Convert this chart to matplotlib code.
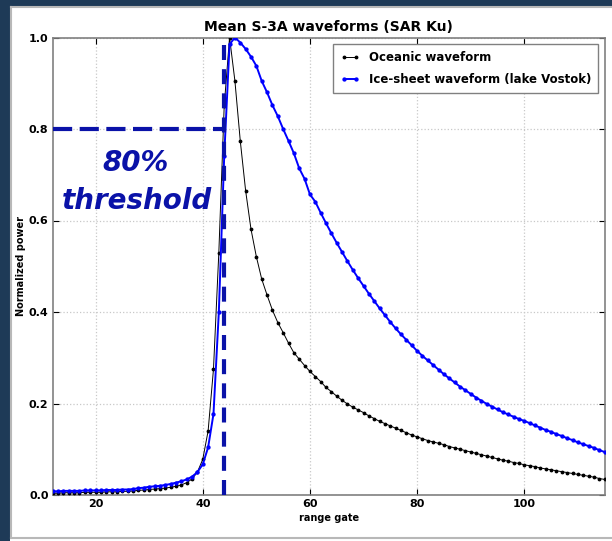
import matplotlib
matplotlib.use("Agg")
import matplotlib.pyplot as plt
from matplotlib.patches import Rectangle
from matplotlib.lines import Line2D

# Range gates shown on the x axis
gates = list(range(10, 119))

# Mean oceanic waveform (normalized power per range gate)
ocean = [
    0.004, 0.004, 0.004, 0.004, 0.005, 0.005, 0.005, 0.005, 0.006, 0.006,   # 10-19
    0.006, 0.006, 0.007, 0.007, 0.007, 0.008, 0.008, 0.009, 0.010, 0.011,   # 20-29
    0.012, 0.013, 0.014, 0.015, 0.017, 0.019, 0.022, 0.027, 0.035, 0.050,   # 30-39
    0.078, 0.140, 0.275, 0.530, 0.850, 1.000, 0.905, 0.774, 0.665, 0.581,   # 40-49
    0.521, 0.472, 0.437, 0.404, 0.377, 0.355, 0.332, 0.311, 0.297, 0.283,   # 50-59
    0.270, 0.259, 0.248, 0.235, 0.226, 0.216, 0.207, 0.199, 0.192, 0.186,   # 60-69
    0.180, 0.173, 0.167, 0.161, 0.156, 0.151, 0.146, 0.141, 0.136, 0.131,   # 70-79
    0.127, 0.123, 0.119, 0.116, 0.113, 0.110, 0.106, 0.103, 0.100, 0.097,   # 80-89
    0.094, 0.091, 0.088, 0.085, 0.082, 0.079, 0.076, 0.074, 0.071, 0.069,   # 90-99
    0.066, 0.064, 0.062, 0.059, 0.057, 0.055, 0.053, 0.051, 0.049, 0.047,   # 100-109
    0.045, 0.043, 0.041, 0.039, 0.036, 0.034, 0.033, 0.032, 0.031,          # 110-118
]

# Mean ice-sheet waveform over lake Vostok
ice = [
    0.008, 0.008, 0.008, 0.008, 0.009, 0.009, 0.009, 0.009, 0.010, 0.010,   # 10-19
    0.010, 0.010, 0.011, 0.011, 0.011, 0.012, 0.012, 0.013, 0.015, 0.016,   # 20-29
    0.018, 0.019, 0.020, 0.022, 0.024, 0.027, 0.030, 0.034, 0.040, 0.050,   # 30-39
    0.067, 0.104, 0.177, 0.400, 0.740, 0.985, 1.000, 0.989, 0.975, 0.958,   # 40-49
    0.938, 0.905, 0.880, 0.852, 0.828, 0.800, 0.774, 0.747, 0.714, 0.691,   # 50-59
    0.657, 0.641, 0.617, 0.594, 0.572, 0.551, 0.531, 0.511, 0.492, 0.474,   # 60-69
    0.457, 0.440, 0.424, 0.408, 0.393, 0.378, 0.364, 0.351, 0.339, 0.327,   # 70-79
    0.315, 0.304, 0.294, 0.284, 0.274, 0.264, 0.255, 0.246, 0.237, 0.229,   # 80-89
    0.221, 0.213, 0.206, 0.199, 0.193, 0.187, 0.181, 0.176, 0.171, 0.166,   # 90-99
    0.162, 0.157, 0.152, 0.147, 0.142, 0.138, 0.133, 0.129, 0.124, 0.120,   # 100-109
    0.115, 0.111, 0.107, 0.103, 0.098, 0.094, 0.091, 0.088, 0.085,          # 110-118
]

threshold_level = 0.8
threshold_gate = 43.9
x_limits = (12, 115)
x_ticks = [20, 40, 60, 80, 100]
y_ticks = [0.0, 0.2, 0.4, 0.6, 0.8, 1.0]

W, H = 612, 541
fig = plt.figure(figsize=(W / 100, H / 100), dpi=100)
fig.patch.set_facecolor("white")

# Slide frame: dark band on the left and top, thin grey edge
navy = "#1e3a57"
fig.patches.append(Rectangle((0, 0), 10 / W, 1, transform=fig.transFigure,
                             facecolor=navy, edgecolor="none", zorder=0))
fig.patches.append(Rectangle((0, 1 - 6 / H), 1, 6 / H, transform=fig.transFigure,
                             facecolor=navy, edgecolor="none", zorder=0))
for xs, ys in [([11 / W, 11 / W], [3 / H, 1 - 7 / H]),
               ([11 / W, 1], [1 - 7 / H, 1 - 7 / H]),
               ([11 / W, 1], [3 / H, 3 / H])]:
    fig.lines.append(Line2D(xs, ys, transform=fig.transFigure,
                            color="#b8b8b8", lw=1.5))

left, right = 52.7 / W, 604.7 / W
bottom, top = 1 - 495 / H, 1 - 37.5 / H
ax = fig.add_axes([left, bottom, right - left, top - bottom])

ax.plot(gates, ocean, color="black", lw=0.7, marker=".", ms=3.5,
        mec="black", mfc="black", label="Oceanic waveform", zorder=3)
ax.plot(gates, ice, color="#0000ff", lw=1.4, marker=".", ms=4.2,
        mec="#0000ff", mfc="#0000ff",
        label="Ice-sheet waveform (lake Vostok)", zorder=3)

# 80% threshold annotation
anno = "#0a12a8"
dash = (0, (4.6, 1.8))
ax.plot([x_limits[0], threshold_gate], [threshold_level, threshold_level],
        color=anno, lw=3.0, ls=dash, zorder=4)
ax.plot([threshold_gate, threshold_gate], [0, 1.0],
        color=anno, lw=3.0, ls=(0, (3.6, 2.2)), zorder=4)
ax.text(27.5, 0.725, "80%", color=anno, fontsize=20, fontweight="bold",
        style="italic", ha="center", va="center", zorder=5)
ax.text(27.8, 0.643, "threshold", color=anno, fontsize=20, fontweight="bold",
        style="italic", ha="center", va="center", zorder=5)

ax.set_xlim(*x_limits)
ax.set_ylim(0, 1.0)
ax.set_xticks(x_ticks)
ax.set_yticks(y_ticks)
ax.set_yticklabels([f"{v:.1f}" for v in y_ticks])
ax.tick_params(direction="in", length=4, width=0.8, labelsize=8,
               top=True, right=True, pad=3)
for lab in ax.get_xticklabels() + ax.get_yticklabels():
    lab.set_fontweight("bold")
ax.grid(True, color="#c8c8c8", ls=":", lw=0.9)
for s in ax.spines.values():
    s.set_color("#808080")
    s.set_linewidth(1.2)

ax.set_title("Mean S-3A waveforms (SAR Ku)", fontsize=10, fontweight="bold", pad=5)
ax.set_xlabel("range gate", fontsize=7, fontweight="bold", labelpad=3)
ax.set_ylabel("Normalized power", fontsize=7, fontweight="bold", labelpad=2)

leg = ax.legend(loc="upper right", numpoints=2, handlelength=1.6,
                borderaxespad=0.55, borderpad=0.6, labelspacing=0.75,
                fancybox=False, framealpha=1,
                prop={"weight": "bold", "size": 8.5})
leg.get_frame().set_edgecolor("#808080")
leg.get_frame().set_linewidth(1.0)

fig.savefig("out.png", dpi=100)
